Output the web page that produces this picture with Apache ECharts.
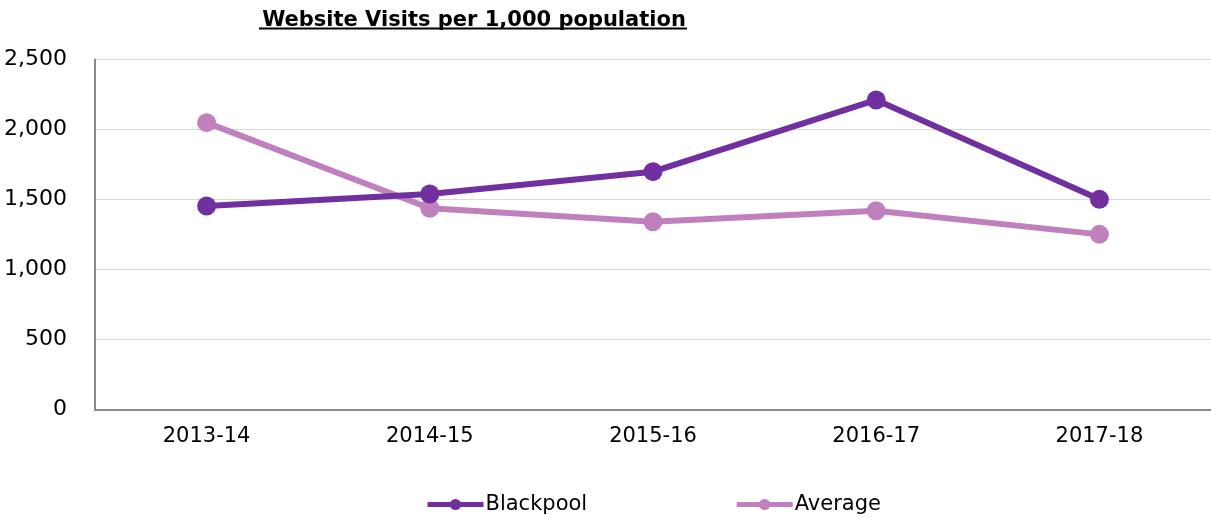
<!DOCTYPE html>
<html>
<head>
<meta charset="utf-8">
<script src="https://cdn.jsdelivr.net/npm/echarts@6/dist/echarts.min.js"></script>
<style>html,body{margin:0;padding:0;background:#fff}#c{width:1211px;height:518px}</style>
</head>
<body>
<div id="c"></div>
<script>
const categories = ['2013-14', '2014-15', '2015-16', '2016-17', '2017-18'];
const blackpool = [1454, 1539, 1699, 2211, 1501];
const average = [2049, 1437, 1341, 1420, 1251];
const yTicks = [0, 500, 1000, 1500, 2000, 2500];

const chart = echarts.init(document.getElementById('c'));
const font = 'DejaVu Sans, Verdana, sans-serif';
chart.setOption({
  animation: false,
  textStyle: { fontFamily: font },
  title: {
    text: 'Website Visits per 1,000 population',
    left: 469, top: 5, textAlign: 'center',
    textStyle: { fontFamily: font, fontSize: 21, fontWeight: 'bold', color: '#000' }
  },
  graphic: [{
    type: 'line', shape: { x1: 259, y1: 28.5, x2: 687, y2: 28.5 },
    style: { stroke: '#000', lineWidth: 2 }
  }],
  legend: {
    bottom: -2, left: 420, itemWidth: 56, itemHeight: 14, itemGap: 147,
    lineStyle: { width: 5 },
    textStyle: { fontFamily: font, fontSize: 21, color: '#000', padding: [0, 0, 0, -3] },
    data: ['Blackpool', 'Average']
  },
  grid: { left: 95, top: 59.5, width: 1120, height: 350, containLabel: false },
  xAxis: {
    type: 'category', data: categories, boundaryGap: true,
    axisLine: { lineStyle: { color: '#898989', width: 2 } },
    axisTick: { show: false },
    axisLabel: { fontFamily: font, fontSize: 21, color: '#000', margin: 17 }
  },
  yAxis: {
    type: 'value', min: yTicks[0], max: yTicks[yTicks.length - 1], interval: 500,
    axisLine: { show: true, lineStyle: { color: '#898989', width: 2 } },
    axisTick: { show: false },
    splitLine: { lineStyle: { color: '#d9d9d9', width: 1 } },
    axisLabel: { fontFamily: font, fontSize: 22, color: '#000', margin: 28,
      formatter: v => v.toLocaleString('en-US') }
  },
  series: [
    { name: 'Average', type: 'line', data: average, symbol: 'circle', symbolSize: 19,
      lineStyle: { color: '#c080bd', width: 6 }, itemStyle: { color: '#c080bd' }, z: 2 },
    { name: 'Blackpool', type: 'line', data: blackpool, symbol: 'circle', symbolSize: 19,
      lineStyle: { color: '#7030a0', width: 6 }, itemStyle: { color: '#7030a0' }, z: 3 }
  ]
});
</script>
</body>
</html>
